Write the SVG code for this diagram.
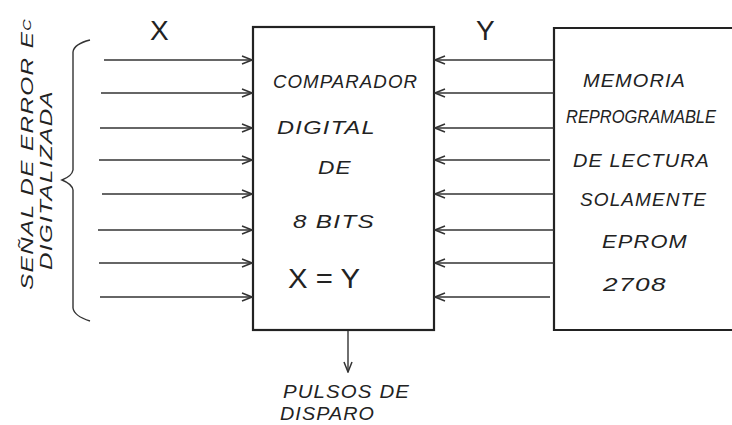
<svg xmlns="http://www.w3.org/2000/svg" width="732" height="425" viewBox="0 0 732 425">
<style>
.box{fill:#fff;stroke:#222;stroke-width:2.2}
.ln{stroke:#333;stroke-width:1.4;fill:none}
.t{font-family:"Liberation Sans",Arial,sans-serif;font-style:italic;fill:#222;font-size:18px;letter-spacing:1px}
.r{font-size:17px}
.big{font-family:"Liberation Sans",Arial,sans-serif;fill:#222;font-size:28px}
</style>
<defs>
<marker id="ah" viewBox="0 0 12 10" refX="11" refY="5" markerWidth="12" markerHeight="10" markerUnits="userSpaceOnUse" orient="auto">
<polyline points="1,1 11,5 1,9" fill="none" stroke="#333" stroke-width="1.5"/>
</marker>
</defs>
<rect width="732" height="425" fill="#fff"/>
<g id="comparator">
<rect class="box" x="253" y="27" width="181" height="303"/>
<text class="t" x="273" y="88" textLength="145" lengthAdjust="spacingAndGlyphs">COMPARADOR</text>
<text class="t" x="277" y="134" textLength="99" lengthAdjust="spacingAndGlyphs">DIGITAL</text>
<text class="t" x="318" y="174" textLength="34" lengthAdjust="spacingAndGlyphs">DE</text>
<text class="t" x="293" y="228" textLength="82" lengthAdjust="spacingAndGlyphs">8 BITS</text>
<text class="big" x="288" y="288" textLength="72" lengthAdjust="spacingAndGlyphs">X = Y</text>
</g>
<g id="memory">
<path class="box" d="M735,28 H554 V330 H735"/>
<text class="t" x="583" y="87" textLength="103" lengthAdjust="spacingAndGlyphs">MEMORIA</text>
<text class="t" x="566" y="123" textLength="150" lengthAdjust="spacingAndGlyphs" style="letter-spacing:0">REPROGRAMABLE</text>
<text class="t" x="573" y="167" textLength="137" lengthAdjust="spacingAndGlyphs">DE LECTURA</text>
<text class="t" x="580" y="206" textLength="127" lengthAdjust="spacingAndGlyphs">SOLAMENTE</text>
<text class="t" x="602" y="248" textLength="86" lengthAdjust="spacingAndGlyphs">EPROM</text>
<text class="t" x="603" y="291" textLength="64" lengthAdjust="spacingAndGlyphs">2708</text>
</g>
<g id="input-label">
<path class="ln" d="M90,40 Q74,44 73,52 V170 Q72,176 62,180 Q72,184 73,190 V308 Q74,316 90,321"/>
<text class="t r" transform="translate(33,290) rotate(-90)" textLength="272" lengthAdjust="spacingAndGlyphs">SEÑAL DE ERROR E<tspan font-size="11" dy="-2">C</tspan></text>
<text class="t r" transform="translate(52,270) rotate(-90)" textLength="180" lengthAdjust="spacingAndGlyphs">DIGITALIZADA</text>
<text class="big" x="150" y="40" font-size="24">X</text>
<text class="big" x="476" y="40" font-size="24">Y</text>
</g>
<g id="output-label">
<text class="t" x="283" y="398" textLength="127" lengthAdjust="spacingAndGlyphs">PULSOS DE</text>
<text class="t" x="280" y="420" textLength="95" lengthAdjust="spacingAndGlyphs">DISPARO</text>
</g>
<g id="connectors">
<line class="ln" x1="104" y1="60" x2="252" y2="60" marker-end="url(#ah)"/>
<line class="ln" x1="101" y1="93" x2="252" y2="93" marker-end="url(#ah)"/>
<line class="ln" x1="100" y1="128" x2="252" y2="128" marker-end="url(#ah)"/>
<line class="ln" x1="99" y1="160" x2="252" y2="160" marker-end="url(#ah)"/>
<line class="ln" x1="102" y1="194" x2="252" y2="194" marker-end="url(#ah)"/>
<line class="ln" x1="98" y1="230" x2="252" y2="230" marker-end="url(#ah)"/>
<line class="ln" x1="99" y1="263" x2="252" y2="263" marker-end="url(#ah)"/>
<line class="ln" x1="100" y1="297" x2="252" y2="297" marker-end="url(#ah)"/>
<line class="ln" x1="554" y1="60" x2="435" y2="60" marker-end="url(#ah)"/>
<line class="ln" x1="554" y1="93" x2="435" y2="93" marker-end="url(#ah)"/>
<line class="ln" x1="554" y1="128" x2="435" y2="128" marker-end="url(#ah)"/>
<line class="ln" x1="550" y1="160" x2="435" y2="160" marker-end="url(#ah)"/>
<line class="ln" x1="554" y1="194" x2="435" y2="194" marker-end="url(#ah)"/>
<line class="ln" x1="554" y1="230" x2="435" y2="230" marker-end="url(#ah)"/>
<line class="ln" x1="554" y1="263" x2="435" y2="263" marker-end="url(#ah)"/>
<line class="ln" x1="550" y1="297" x2="435" y2="297" marker-end="url(#ah)"/>
<line class="ln" x1="348" y1="331" x2="348" y2="372" marker-end="url(#ah)"/>
</g>
</svg>
